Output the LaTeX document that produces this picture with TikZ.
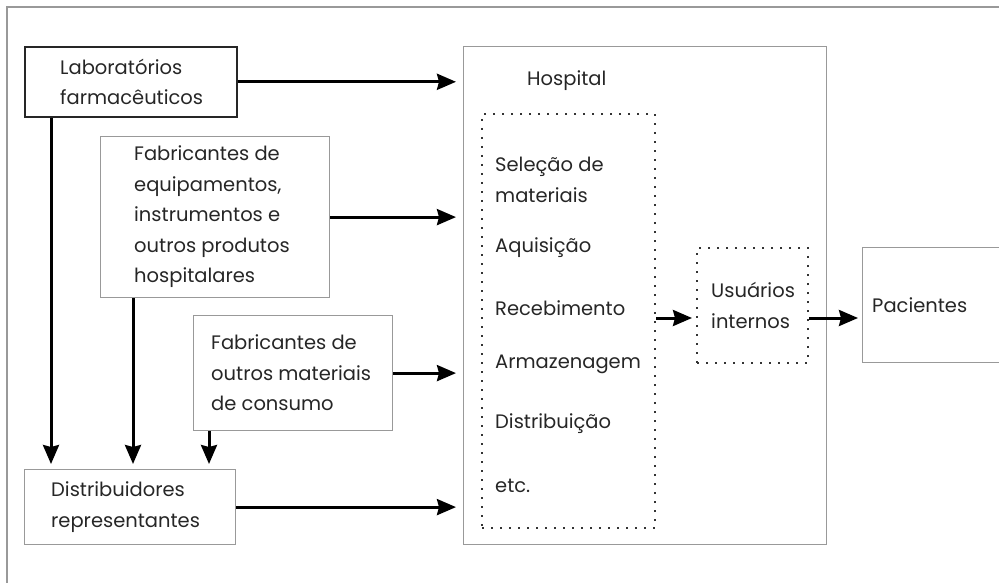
\documentclass[tikz,border=0pt]{standalone}
\usepackage{fontspec}
\setmainfont{Poppins}
\usetikzlibrary{arrows.meta, positioning}

\tikzset{
  caixa/.style={draw=black!40, line width=1.2pt, inner sep=0pt, anchor=north west},
  caixapreta/.style={caixa, draw=black!85, line width=1.6pt},
  pontilhada/.style={caixa, draw=black!80, line width=2pt, dash pattern=on 2pt off 7pt},
  texto/.style={anchor=west, align=left, inner sep=0pt, text=black!85,
    font=\fontsize{19.5}{30.5}\selectfont},
  seta/.style={-{Stealth[length=19pt, width=16pt, inset=2pt]}, line width=3pt},
}

\begin{document}
\begin{tikzpicture}[x=1pt, y=-1pt]
\clip (0,0) rectangle (999,583);
\draw[black!40, line width=1.5pt] (7,600) -- (7,7) -- (1010,7);

% fornecedores
\node[caixapreta, minimum width=212pt, minimum height=70pt] (lab) at (24,46) {};
\node[texto, right=36pt of lab.west] {Laboratórios\\farmacêuticos};
\node[caixa, minimum width=229pt, minimum height=161pt] (equip) at (100,136) {};
\node[texto, right=34pt of equip.west] {Fabricantes de\\equipamentos,\\instrumentos e\\outros produtos\\hospitalares};
\node[caixa, minimum width=199pt, minimum height=115pt] (outros) at (193,315) {};
\node[texto, right=18pt of outros.west] {Fabricantes de\\outros materiais\\de consumo};
\node[caixa, minimum width=211pt, minimum height=75pt] (dist) at (24,469) {};
\node[texto, right=27pt of dist.west] {Distribuidores\\representantes};

% hospital
\node[caixa, minimum width=363pt, minimum height=498pt] (hosp) at (463,46) {};
\node[texto] (hosptxt) at (527,81) {Hospital};
\node[pontilhada, minimum width=173pt, minimum height=414pt] (proc) at (481,113) {};
\node[texto] (selecao) at (495,180) {Seleção de\\materiais};
\node[texto] (aquis) at (495,248) {Aquisição};
\node[texto] (receb) at (495,308) {Recebimento};
\node[texto] (armaz) at (495,364) {Armazenagem};
\node[texto] (distrib) at (495,424) {Distribuição};
\node[texto] (etc) at (495,486) {etc.};
\node[pontilhada, minimum width=111pt, minimum height=115pt] (usu) at (696,247) {};
\node[texto, right=15pt of usu.west] {Usuários\\internos};
\node[caixa, minimum width=160pt, minimum height=115pt] (pac) at (862,247) {};
\node[texto, right=10pt of pac.west] {Pacientes};

% setas
\draw[seta, shorten >=7pt] (lab.east) -- (lab.east -| hosp.west);
\draw[seta, shorten >=7pt] (equip.east) -- (equip.east -| hosp.west);
\draw[seta, shorten >=7pt] (outros.east) -- (outros.east -| hosp.west);
\draw[seta, shorten >=7pt] (dist.east) -- (dist.east -| hosp.west);

\coordinate (v1) at ([xshift=27pt]lab.south west);
\coordinate (v2) at ([xshift=33pt]equip.south west);
\coordinate (v3) at ([xshift=16pt]outros.south west);
\draw[seta, shorten >=5pt] (v1) -- (v1 |- dist.north);
\draw[seta, shorten >=5pt] (v2) -- (v2 |- dist.north);
\draw[seta, shorten >=5pt] (v3) -- (v3 |- dist.north);

\coordinate (u1) at ([yshift=-12.5pt]usu.west);
\draw[seta, shorten >=4pt] (u1 -| proc.east) -- (u1);
\draw[seta, shorten >=4pt] (u1 -| usu.east) -- (u1 -| pac.west);
\end{tikzpicture}
\end{document}
